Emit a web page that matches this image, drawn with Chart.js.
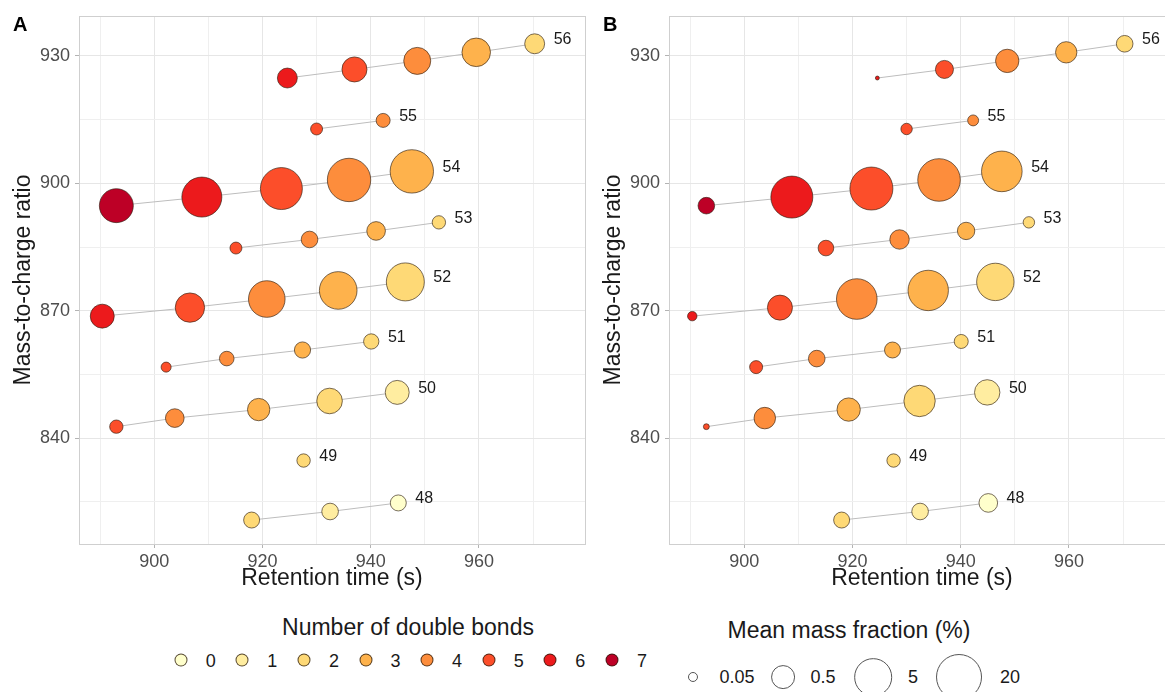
<!DOCTYPE html>
<html>
<head>
<meta charset="utf-8">
<script src="https://cdn.jsdelivr.net/npm/chart.js@4.4.0/dist/chart.umd.min.js"></script>
<style>
    body { margin: 0; width: 1165px; height: 692px; overflow: hidden; background: #fff; position: relative;
           font-family: "Liberation Sans", Arial, sans-serif; color: #1a1a1a; }
    .panel { position: absolute; top: 0; width: 590px; height: 600px; }
    #panelA { left: 0; }
    #panelB { left: 590px; }
    .tag { position: absolute; top: 13px; font-weight: bold; font-size: 20px; color: #000; }
    .ltitle { position: absolute; font-size: 23px; transform: translate(-50%, -50%); white-space: nowrap; }
    .dot { position: absolute; border-radius: 50%; box-sizing: border-box; transform: translate(-50%, -50%); }
    .llabel { position: absolute; font-size: 18px; transform: translate(-50%, -50%); white-space: nowrap; }
</style>
</head>
<body>
<div class="panel" id="panelA"><canvas id="chartA" width="590" height="600"></canvas></div>
<div class="panel" id="panelB"><canvas id="chartB" width="590" height="600"></canvas></div>
<div class="tag" style="left:13px">A</div>
<div class="tag" style="left:603px">B</div>
<div id="legend"></div>

<script>
// one entry per lipid species (carbon number : double bonds)
const carbon = [56, 56, 56, 56, 56, 55, 55, 54, 54, 54, 54, 54, 53, 53, 53, 53, 52, 52, 52, 52, 52,
                51, 51, 51, 51, 50, 50, 50, 50, 50, 49, 48, 48, 48];
const dbonds = [6, 5, 4, 3, 2, 5, 4, 7, 6, 5, 4, 3, 5, 4, 3, 2, 6, 5, 4, 3, 2,
                5, 4, 3, 2, 5, 4, 3, 2, 1, 2, 2, 1, 0];
const rt = [924.6, 937.0, 948.6, 959.5, 970.3, 930.0, 942.3, 893.0, 908.8, 923.5, 936.0, 947.6,
            915.1, 928.7, 941.0, 952.6, 890.4, 906.6, 920.8, 934.0, 946.4,
            902.2, 913.4, 927.4, 940.1, 893.0, 903.8, 919.3, 932.4, 944.9, 927.6, 918.0, 932.5, 945.1];
const mz = [924.80, 926.82, 928.83, 930.85, 932.86, 912.80, 914.82, 894.75, 896.77, 898.78, 900.80, 902.82,
            884.77, 886.79, 888.80, 890.82, 868.74, 870.75, 872.77, 874.79, 876.80,
            856.74, 858.75, 860.77, 862.78, 842.72, 844.74, 846.75, 848.77, 850.79, 834.75, 820.74, 822.75, 824.77];
// mean mass fraction (%) in each panel
const fracA = [0.26, 0.61, 0.85, 1.1, 0.26, 0.069, 0.097, 2.7, 7.4, 10.3, 13, 13,
               0.069, 0.15, 0.21, 0.087, 0.51, 1.26, 4.2, 5.0, 5.3,
               0.05, 0.107, 0.14, 0.12, 0.087, 0.21, 0.39, 0.67, 0.51, 0.087, 0.135, 0.15, 0.135];
const fracB = [0.018, 0.19, 0.46, 0.33, 0.15, 0.063, 0.058, 0.15, 10.3, 12.2, 11.4, 8.2,
               0.127, 0.24, 0.17, 0.063, 0.045, 0.61, 8.2, 7.9, 4.8,
               0.082, 0.15, 0.135, 0.097, 0.025, 0.34, 0.46, 1.76, 0.65, 0.087, 0.135, 0.15, 0.21];

const xTicks = [890, 900, 910, 920, 930, 940, 950, 960, 970];
const xLabels = [900, 920, 940, 960];
const yTicks = [825, 840, 855, 870, 885, 900, 915, 930];
const yLabels = [840, 870, 900, 930];
const bondLevels = [0, 1, 2, 3, 4, 5, 6, 7];
const bondColors = ['#FFFFCC', '#FFEDA0', '#FED976', '#FEB24C', '#FD8D3C', '#FC4E2A', '#EC1A1C', '#BD0026'];
const sizeBreaks = [0.05, 0.5, 5, 20];

// size scale: radius grows with log of the fraction
function sizeRadius(v) {
    return Math.max(1.5, 14 + 6.9 * Math.log10(v));
}

const seriesLabels = {
    id: 'seriesLabels',
    afterDatasetsDraw(chart) {
        const ctx = chart.ctx;
        const els = chart.getDatasetMeta(0).data;
        ctx.save();
        ctx.font = '16px "Liberation Sans", Arial, sans-serif';
        ctx.fillStyle = '#1a1a1a';
        ctx.textAlign = 'left';
        ctx.textBaseline = 'middle';
        [...new Set(carbon)].forEach(c => {
            let last = -1;
            carbon.forEach((cc, i) => { if (cc === c && (last < 0 || rt[i] > rt[last])) last = i; });
            const el = els[last];
            ctx.fillText(String(c), el.x + el.options.radius + 9, el.y - 4);
        });
        ctx.restore();
    }
};

const isMajor = (c, list) => list.includes(c.tick && c.tick.value);

function makePanel(id, frac) {
    const lines = [...new Set(carbon)].map(c => {
        const idx = carbon.map((cc, i) => i).filter(i => carbon[i] === c).sort((a, b) => rt[a] - rt[b]);
        return {
            type: 'line',
            data: idx.map(i => ({ x: rt[i], y: mz[i] })),
            borderColor: '#bdbdbd',
            borderWidth: 1,
            pointRadius: 0,
            fill: false,
            tension: 0,
            order: 2
        };
    });

    return new Chart(document.getElementById(id), {
        type: 'bubble',
        data: {
            datasets: [{
                data: rt.map((x, i) => ({ x: x, y: mz[i], r: sizeRadius(frac[i]) })),
                backgroundColor: dbonds.map(n => bondColors[n]),
                borderColor: 'rgba(45,30,15,0.8)',
                borderWidth: 0.8,
                order: 1
            }, ...lines]
        },
        options: {
            responsive: false,
            animation: false,
            layout: { autoPadding: false, padding: { left: 0, top: 16, right: 5, bottom: 0 } },
            plugins: { legend: { display: false }, tooltip: { enabled: false } },
            scales: {
                x: {
                    type: 'linear',
                    min: 886.1,
                    max: 979.6,
                    afterBuildTicks: s => { s.ticks = xTicks.map(v => ({ value: v })); },
                    afterFit: s => { s.height = 56; },
                    ticks: {
                        callback: v => xLabels.includes(v) ? String(v) : '',
                        font: { size: 18, family: '"Liberation Sans", Arial, sans-serif' },
                        color: '#4d4d4d',
                        padding: 3,
                        maxRotation: 0,
                        autoSkip: false
                    },
                    grid: {
                        color: c => isMajor(c, xLabels) ? '#e6e6e6' : '#efefef',
                        lineWidth: 1,
                        tickLength: 4,
                        tickColor: c => isMajor(c, xLabels) ? '#b3b3b3' : 'rgba(0,0,0,0)'
                    },
                    border: { color: '#b3b3b3', width: 1 },
                    title: {
                        display: true,
                        text: 'Retention time (s)',
                        color: '#1a1a1a',
                        font: { size: 23, family: '"Liberation Sans", Arial, sans-serif' },
                        padding: { top: 0, bottom: 8 }
                    }
                },
                y: {
                    type: 'linear',
                    min: 815.1,
                    max: 939.4,
                    afterBuildTicks: s => { s.ticks = yTicks.map(v => ({ value: v })); },
                    afterFit: s => { s.width = 79; },
                    ticks: {
                        callback: v => yLabels.includes(v) ? String(v) : '',
                        font: { size: 18, family: '"Liberation Sans", Arial, sans-serif' },
                        color: '#4d4d4d',
                        padding: 5,
                        autoSkip: false
                    },
                    grid: {
                        color: c => isMajor(c, yLabels) ? '#e6e6e6' : '#efefef',
                        lineWidth: 1,
                        tickLength: 4,
                        tickColor: c => isMajor(c, yLabels) ? '#b3b3b3' : 'rgba(0,0,0,0)'
                    },
                    border: { color: '#b3b3b3', width: 1 },
                    title: {
                        display: true,
                        text: 'Mass-to-charge ratio',
                        color: '#1a1a1a',
                        font: { size: 23, family: '"Liberation Sans", Arial, sans-serif' },
                        padding: { top: 10, bottom: 0 }
                    }
                }
            }
        },
        plugins: [seriesLabels, {
            id: 'panelBorder',
            afterDraw(chart) {
                const { ctx, chartArea: a } = chart;
                ctx.save();
                ctx.strokeStyle = '#cfcfcf';
                ctx.lineWidth = 1;
                ctx.strokeRect(a.left + 0.5, a.top + 0.5, a.right - a.left, a.bottom - a.top);
                ctx.restore();
            }
        }]
    });
}

makePanel('chartA', fracA);
makePanel('chartB', fracB);

// legends below the panels
const legend = document.getElementById('legend');
function add(cls, style, text) {
    const d = document.createElement('div');
    d.className = cls;
    Object.assign(d.style, style);
    if (text !== undefined) d.textContent = text;
    legend.appendChild(d);
}

add('ltitle', { left: '408px', top: '627px' }, 'Number of double bonds');
bondLevels.forEach((n, i) => {
    const cx = 180.7 + i * 61.6;
    add('dot', { left: cx + 'px', top: '660px', width: '13px', height: '13px',
                 background: bondColors[n], border: '0.8px solid rgba(45,30,15,0.8)' });
    add('llabel', { left: (cx + 30) + 'px', top: '661px' }, String(n));
});

add('ltitle', { left: '849px', top: '630px' }, 'Mean mass fraction (%)');
const sizeDotX = [693, 783, 873, 959];
const sizeLabX = [737, 823, 913, 1010];
sizeBreaks.forEach((v, i) => {
    const d = 2 * sizeRadius(v);
    add('dot', { left: sizeDotX[i] + 'px', top: '677px', width: d + 'px', height: d + 'px',
                 background: 'transparent', border: '1px solid #555' });
    add('llabel', { left: sizeLabX[i] + 'px', top: '677px' }, String(v));
});
</script>
</body>
</html>
